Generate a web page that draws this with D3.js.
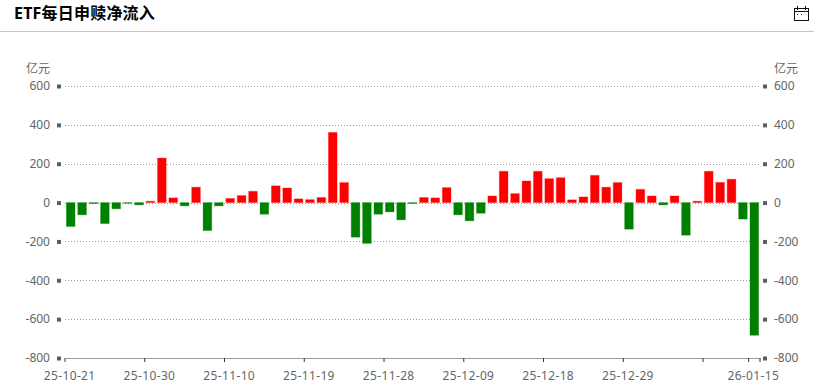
<!DOCTYPE html>
<html>
<head>
<meta charset="utf-8">
<script src="https://cdn.jsdelivr.net/npm/d3@7"></script>
<style>
  html, body { margin: 0; padding: 0; background: #fff; }
  svg { display: block; }
  text { font-family: "Noto Sans", "Noto Sans CJK SC", sans-serif; }
</style>
</head>
<body>
<svg id="chart" width="814" height="389"></svg>
<script>
var dates = ['25-10-21', '25-10-22', '25-10-23', '25-10-24', '25-10-27', '25-10-28', '25-10-29', '25-10-30',
  '25-10-31', '25-11-03', '25-11-04', '25-11-05', '25-11-06', '25-11-07', '25-11-10', '25-11-11',
  '25-11-12', '25-11-13', '25-11-14', '25-11-17', '25-11-18', '25-11-19', '25-11-20', '25-11-21',
  '25-11-24', '25-11-25', '25-11-26', '25-11-27', '25-11-28', '25-12-01', '25-12-02', '25-12-03',
  '25-12-04', '25-12-05', '25-12-08', '25-12-09', '25-12-10', '25-12-11', '25-12-12', '25-12-15',
  '25-12-16', '25-12-17', '25-12-18', '25-12-19', '25-12-22', '25-12-23', '25-12-24', '25-12-25',
  '25-12-26', '25-12-29', '25-12-30', '25-12-31', '26-01-05', '26-01-06', '26-01-07', '26-01-08',
  '26-01-09', '26-01-12', '26-01-13', '26-01-14', '26-01-15'];

var flows = [-123, -63, -5, -108, -32, -4, -12, 7,
  229, 24, -17, 79, -144, -17, 21, 36,
  58, -60, 86, 75, 19, 15, 26, 361,
  103, -178, -210, -60, -48, -89, -5, 26,
  24, 77, -63, -94, -55, 34, 161, 46,
  111, 161, 123, 128, 14, 29, 140, 79,
  103, -137, 68, 34, -12, 34, -168, 7,
  161, 104, 120, -85, -683];

var tickDates = ['25-10-21', '25-10-30', '25-11-10', '25-11-19', '25-11-28', '25-12-09', '25-12-18', '25-12-29', '26-01-09', '26-01-15'];
var hiddenLabels = ['26-01-09'];
var yTicks = [600, 400, 200, 0, -200, -400, -600, -800];

var title = 'ETF每日申赎净流入';
var unit = '亿元';

var margin = { top: 86, right: 54, bottom: 31, left: 65 },
  width = 814 - margin.left - margin.right,
  height = 389 - margin.top - margin.bottom;

var svg = d3.select('#chart');

// header
svg.append('text')
  .attr('x', 14)
  .attr('y', 19)
  .attr('font-size', 16)
  .attr('font-weight', 'bold')
  .attr('letter-spacing', 0.2)
  .attr('fill', '#000')
  .text(title);

svg.append('line')
  .attr('x1', 0).attr('x2', 814)
  .attr('y1', 31.5).attr('y2', 31.5)
  .attr('stroke', '#c6c6c6');

// calendar icon
var icon = svg.append('g')
  .attr('transform', 'translate(794,6)')
  .attr('fill', 'none')
  .attr('stroke', '#111');
icon.append('rect').attr('x', 0.5).attr('y', 2.5).attr('width', 14).attr('height', 12);
icon.append('line').attr('x1', 0).attr('x2', 15).attr('y1', 5.5).attr('y2', 5.5);
icon.append('line').attr('x1', 3.5).attr('x2', 3.5).attr('y1', 0).attr('y2', 4);
icon.append('line').attr('x1', 11.5).attr('x2', 11.5).attr('y1', 0).attr('y2', 4);
icon.append('rect').attr('x', 3).attr('y', 8).attr('width', 1).attr('height', 1).attr('fill', '#111').attr('stroke', 'none');
icon.append('rect').attr('x', 7).attr('y', 8).attr('width', 1).attr('height', 1).attr('fill', '#111').attr('stroke', 'none');

var g = svg.append('g')
  .attr('transform', 'translate(' + margin.left + ',' + margin.top + ')');

var x = d3.scaleBand()
  .domain(dates)
  .range([0, width])
  .paddingInner(0.24)
  .paddingOuter(0.12);

var y = d3.scaleLinear()
  .domain([-800, 600])
  .range([height, 0]);

// dotted grid
g.append('g')
  .selectAll('line')
  .data(yTicks.filter(function (d) { return d != -800; }))
  .enter().append('line')
  .attr('x1', 0)
  .attr('x2', width)
  .attr('y1', function (d) { return Math.round(y(d)) + 0.5; })
  .attr('y2', function (d) { return Math.round(y(d)) + 0.5; })
  .attr('stroke', '#999')
  .attr('stroke-dasharray', '1,2');

// bars
g.append('g')
  .selectAll('rect')
  .data(flows)
  .enter().append('rect')
  .attr('x', function (d, i) { return x(dates[i]); })
  .attr('width', x.bandwidth())
  .attr('y', function (d) { return y(Math.max(d, 0)); })
  .attr('height', function (d) { return Math.abs(y(d) - y(0)); })
  .attr('fill', function (d) { return d >= 0 ? '#ff0000' : '#008000'; })
  .attr('stroke', function (d) { return d >= 0 ? '#ff0000' : '#008000'; })
  .attr('stroke-opacity', 0.3);

// y axes, ticks drawn as small squares
function styleYAxis(sel) {
  sel.select('.domain').remove();
  sel.selectAll('.tick line').attr('stroke', '#5a5d66').attr('stroke-width', 4);
  sel.selectAll('.tick text').attr('fill', '#666').attr('font-size', 12);
}

var yLeft = g.append('g')
  .attr('transform', 'translate(-4,0)')
  .call(d3.axisLeft(y).tickValues(yTicks).tickSize(4).tickPadding(7).tickFormat(String));
styleYAxis(yLeft);

var yRight = g.append('g')
  .attr('transform', 'translate(' + (width + 3) + ',0)')
  .call(d3.axisRight(y).tickValues(yTicks).tickSize(4).tickPadding(7).tickFormat(String));
styleYAxis(yRight);

g.append('text')
  .attr('x', -15)
  .attr('y', -13)
  .attr('text-anchor', 'end')
  .attr('font-size', 12)
  .attr('fill', '#666')
  .text(unit);

g.append('text')
  .attr('x', width + 14)
  .attr('y', -13)
  .attr('font-size', 12)
  .attr('fill', '#666')
  .text(unit);

// x axis, ticks sit on the band edges and labels on the band centres
var xAxis = g.append('g')
  .attr('transform', 'translate(0,' + height + ')')
  .call(d3.axisBottom(x)
    .tickValues(tickDates)
    .tickSize(4)
    .tickSizeOuter(0)
    .tickPadding(9)
    .tickFormat(function (d) { return hiddenLabels.indexOf(d) >= 0 ? '' : d; }));

xAxis.select('.domain').attr('stroke', '#9a9aa5');
xAxis.selectAll('.tick line')
  .attr('stroke', '#333')
  .attr('transform', 'translate(' + (-x.step() / 2) + ',0)');
xAxis.selectAll('.tick text')
  .attr('fill', '#666')
  .attr('font-size', 12)
  .attr('letter-spacing', 0.35)
  .attr('dx', -1);

xAxis.append('line')
  .attr('x1', width).attr('x2', width)
  .attr('y1', 0).attr('y2', 4)
  .attr('stroke', '#333');
</script>
</body>
</html>
